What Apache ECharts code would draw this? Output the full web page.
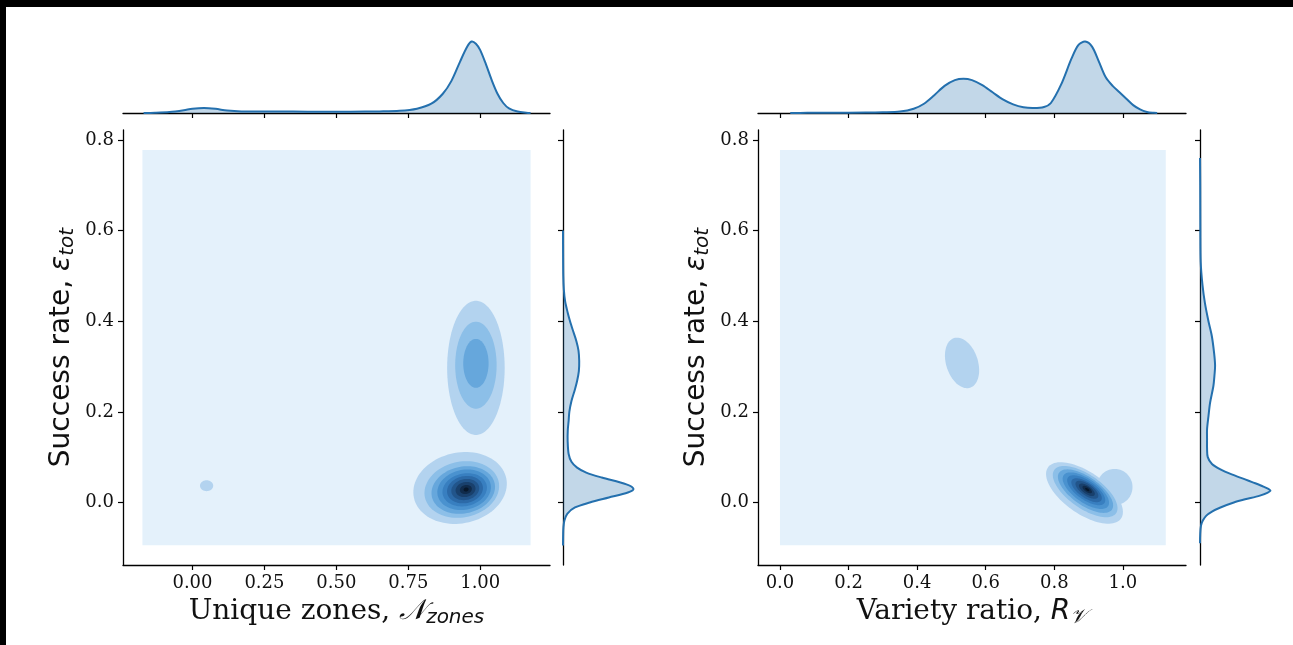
<!DOCTYPE html>
<html>
<head>
<meta charset="utf-8">
<script src="https://cdn.jsdelivr.net/npm/echarts@6/dist/echarts.min.js"></script>
<style>
html,body{margin:0;padding:0;background:#fff;}
#c{width:1293px;height:645px;}
</style>
</head>
<body>
<div id="c"></div>
<script>
// ---------- data ----------
const leftXTicks = [0, 0.25, 0.5, 0.75, 1.0];
const rightXTicks = [0, 0.2, 0.4, 0.6, 0.8, 1.0];
const yTicks = [0, 0.2, 0.4, 0.6, 0.8];
const leftXRange = [-0.2415, 1.2425];
const rightXRange = [-0.064, 1.184];
const yRange = [-0.138, 0.822];

// KDE evaluation region (lowest filled level): [x0, x1, y0, y1]
const leftKdeExtent = [-0.174, 1.175, -0.0945, 0.778];
const rightKdeExtent = [0.0, 1.125, -0.0945, 0.778];

// contour levels: [cx, cy, a (x units), b (y units), angle deg, level]
const leftLowerBlob = [
  [0.930, 0.032, 0.164, 0.078, -12, 2],
  [0.936, 0.0286, 0.131, 0.0615, -12, 3],
  [0.941, 0.0275, 0.1115, 0.0516, -12, 4],
  [0.944, 0.028, 0.094, 0.044, -12, 5],
  [0.946, 0.028, 0.078, 0.036, -12, 6],
  [0.947, 0.0283, 0.063, 0.0297, -12, 7],
  [0.948, 0.0285, 0.049, 0.023, -12, 8],
  [0.949, 0.0286, 0.035, 0.0165, -12, 9],
  [0.950, 0.0286, 0.021, 0.0099, -12, 10],
  [0.951, 0.0286, 0.0087, 0.0044, -12, 11]
];
const leftUpperBlob = [
  [0.985, 0.297, 0.100, 0.148, 0, 2],
  [0.985, 0.303, 0.072, 0.096, 0, 3],
  [0.985, 0.307, 0.044, 0.054, 0, 4]
];
const leftSpeck = [
  [0.049, 0.037, 0.023, 0.012, 0, 2]
];
const rightLowerBlob = [
  [0.888, 0.021, 0.130, 0.046, 35, 2],
  [0.890, 0.024, 0.110, 0.037, 35, 3],
  [0.891, 0.025, 0.094, 0.031, 35, 4],
  [0.892, 0.026, 0.079, 0.026, 35, 5],
  [0.893, 0.027, 0.065, 0.021, 35, 6],
  [0.894, 0.027, 0.052, 0.0168, 35, 7],
  [0.895, 0.028, 0.039, 0.0127, 35, 8],
  [0.895, 0.028, 0.027, 0.0089, 35, 9],
  [0.896, 0.0286, 0.016, 0.0054, 35, 10],
  [0.896, 0.0286, 0.007, 0.0024, 35, 11]
];
const rightShoulder = [
  [0.976, 0.034, 0.052, 0.040, 0, 2]
];
const rightUpperBlob = [
  [0.531, 0.308, 0.076, 0.035, 72, 2]
];

// marginal densities (normalised to peak = 1)
const leftTopDensity = [
  [-0.17,0],[-0.13,0.004],[-0.08,0.015],[-0.03,0.04],[0.0,0.06],[0.04,0.07],[0.08,0.058],
  [0.12,0.035],[0.17,0.022],[0.25,0.02],[0.35,0.02],[0.45,0.018],[0.55,0.018],[0.65,0.022],
  [0.72,0.03],[0.78,0.06],[0.83,0.13],[0.87,0.27],[0.9,0.45],[0.93,0.72],[0.955,0.93],
  [0.97,1.0],[0.985,0.97],[1.0,0.88],[1.02,0.68],[1.04,0.46],[1.06,0.27],[1.08,0.14],
  [1.1,0.065],[1.13,0.02],[1.16,0.004],[1.175,0]
];
const rightTopDensity = [
  [0.03,0],[0.08,0.002],[0.15,0.004],[0.25,0.006],[0.3,0.01],[0.35,0.02],[0.39,0.06],
  [0.42,0.13],[0.45,0.25],[0.48,0.38],[0.51,0.46],[0.535,0.48],[0.56,0.46],[0.59,0.39],
  [0.62,0.29],[0.65,0.19],[0.68,0.12],[0.71,0.08],[0.74,0.07],[0.77,0.085],[0.79,0.14],
  [0.82,0.40],[0.85,0.76],[0.87,0.95],[0.89,1.0],[0.91,0.93],[0.93,0.72],[0.95,0.5],
  [0.97,0.38],[0.99,0.29],[1.01,0.2],[1.03,0.11],[1.05,0.05],[1.07,0.015],[1.09,0.002],[1.1,0]
];
const leftRightDensity = [
  [-0.095,0],[-0.07,0.002],[-0.055,0.006],[-0.04,0.02],[-0.025,0.06],[-0.011,0.17],[0.0,0.38],
  [0.011,0.65],[0.022,0.92],[0.03,1.0],[0.04,0.9],[0.055,0.55],[0.066,0.33],[0.077,0.2],
  [0.09,0.12],[0.107,0.08],[0.136,0.066],[0.16,0.068],[0.18,0.08],[0.2,0.09],[0.224,0.12],
  [0.25,0.17],[0.268,0.2],[0.29,0.225],[0.312,0.23],[0.335,0.22],[0.356,0.19],[0.38,0.14],
  [0.4,0.1],[0.42,0.065],[0.444,0.03],[0.47,0.012],[0.5,0.004],[0.55,0.001],[0.6,0]
];
const rightRightDensity = [
  [-0.09,0],[-0.07,0.003],[-0.051,0.014],[-0.04,0.04],[-0.029,0.09],[-0.02,0.17],[-0.011,0.29],
  [0.0,0.48],[0.007,0.64],[0.015,0.85],[0.026,1.0],[0.035,0.9],[0.045,0.74],[0.051,0.64],
  [0.062,0.45],[0.073,0.29],[0.085,0.17],[0.1,0.11],[0.12,0.1],[0.14,0.1],[0.161,0.1],
  [0.19,0.12],[0.22,0.143],[0.257,0.19],[0.28,0.205],[0.302,0.214],[0.33,0.2],[0.368,0.167],
  [0.4,0.12],[0.44,0.07],[0.48,0.035],[0.53,0.01],[0.6,0.005],[0.7,0.003],[0.76,0]
];

// ---------- styling ----------
const levelColors = ['#ffffff','#e4f1fb','#b3d3ef','#8cbfe8','#66a7dc','#4a92cf','#387fc0',
                     '#2c6aa8','#22558b','#19406c','#102b4b','#07172a'];
const curveColor = '#2470ae';
const curveFill = 'rgba(36,112,174,0.28)';
const axisColor = '#000';
const serif = 'DejaVu Serif';
const sans = 'DejaVu Sans';
const titleSize = 28;
const subSize = 20;

const chart = echarts.init(document.getElementById('c'), null, {renderer: 'canvas'});

function mainXAxis(gi, range, ticks, digits, nameRich) {
  return {
    type: 'value', gridIndex: gi, min: range[0], max: range[1],
    splitLine: {show: false},
    axisLine: {show: true, onZero: false, lineStyle: {color: axisColor, width: 1.3}},
    axisTick: {show: true, length: 5, customValues: ticks, lineStyle: {color: axisColor, width: 1.2}},
    axisLabel: {show: true, customValues: ticks, margin: 9, fontFamily: serif, fontSize: 18, color: '#111',
                formatter: v => Number(v).toFixed(digits)},
    name: nameRich.text, nameLocation: 'middle', nameGap: 31,
    nameTextStyle: {rich: nameRich.rich}
  };
}
function mainYAxis(gi) {
  return {
    type: 'value', gridIndex: gi, min: yRange[0], max: yRange[1],
    splitLine: {show: false},
    axisLine: {show: true, onZero: false, lineStyle: {color: axisColor, width: 1.3}},
    axisTick: {show: true, length: 5, customValues: yTicks, lineStyle: {color: axisColor, width: 1.2}},
    axisLabel: {show: true, customValues: yTicks, margin: 9, fontFamily: serif, fontSize: 18, color: '#111',
                formatter: v => Number(v).toFixed(1)},
    name: '{t|Success rate, }{m|ε}{s|tot}', nameLocation: 'middle', nameGap: 45, nameRotate: 90,
    nameTextStyle: {rich: {
      t: {fontFamily: sans, fontSize: titleSize, color: '#111'},
      m: {fontFamily: sans, fontStyle: 'italic', fontSize: titleSize, color: '#111'},
      s: {fontFamily: sans, fontStyle: 'italic', fontSize: subSize, color: '#111', padding: [12, 0, 0, 0]}
    }}
  };
}
function margXAxis(gi, range, ticks) {
  return {
    type: 'value', gridIndex: gi, min: range[0], max: range[1],
    splitLine: {show: false},
    axisLine: {show: true, onZero: false, lineStyle: {color: axisColor, width: 1.3}},
    axisTick: {show: true, length: 5, customValues: ticks, lineStyle: {color: axisColor, width: 1.2}},
    axisLabel: {show: false}
  };
}
function margYAxis(gi) {
  return {
    type: 'value', gridIndex: gi, min: yRange[0], max: yRange[1],
    splitLine: {show: false},
    axisLine: {show: true, onZero: false, lineStyle: {color: axisColor, width: 1.3}},
    axisTick: {show: true, length: 5, customValues: yTicks, lineStyle: {color: axisColor, width: 1.2}},
    axisLabel: {show: false}
  };
}
function hiddenAxis(gi) {
  return {type: 'value', gridIndex: gi, min: 0, max: 1.05, show: false};
}

function rectSeries(xi, yi, extent) {
  return {
    type: 'custom', xAxisIndex: xi, yAxisIndex: yi, silent: true, z: 1,
    data: [extent],
    renderItem: (params, api) => {
      const p0 = api.coord([api.value(0), api.value(3)]);
      const p1 = api.coord([api.value(1), api.value(2)]);
      return {type: 'rect', shape: {x: p0[0], y: p0[1], width: p1[0] - p0[0], height: p1[1] - p0[1]},
              style: {fill: levelColors[1]}};
    }
  };
}
function ellipseSeries(xi, yi, rows) {
  return {
    type: 'custom', xAxisIndex: xi, yAxisIndex: yi, silent: true, z: 2,
    data: rows,
    renderItem: (params, api) => {
      const c = api.coord([api.value(0), api.value(1)]);
      const s = api.size([api.value(2), api.value(3)]);
      const ang = api.value(4) * Math.PI / 180;
      const lvl = api.value(5);
      const pts = [];
      const n = 90;
      for (let i = 0; i < n; i++) {
        const t = i / n * 2 * Math.PI;
        const px = s[0] * Math.cos(t), py = s[1] * Math.sin(t);
        pts.push([c[0] + px * Math.cos(ang) - py * Math.sin(ang), c[1] + px * Math.sin(ang) + py * Math.cos(ang)]);
      }
      return {type: 'polygon', z2: lvl, shape: {points: pts}, style: {fill: levelColors[lvl]}};
    }
  };
}
function topCurveSeries(xi, yi, dens) {
  return {
    type: 'custom', xAxisIndex: xi, yAxisIndex: yi, silent: true, z: 3,
    data: [0],
    renderItem: (params, api) => {
      const pts = dens.map(d => api.coord([d[0], d[1]]));
      const base0 = api.coord([dens[0][0], 0]);
      const base1 = api.coord([dens[dens.length - 1][0], 0]);
      return {type: 'group', children: [
        {type: 'polygon', shape: {points: [base0].concat(pts, [base1]), smooth: 0.3}, style: {fill: curveFill}},
        {type: 'polyline', shape: {points: pts, smooth: 0.3}, style: {stroke: curveColor, lineWidth: 2, fill: null}}
      ]};
    }
  };
}
function rightCurveSeries(xi, yi, dens) {
  return {
    type: 'custom', xAxisIndex: xi, yAxisIndex: yi, silent: true, z: 3,
    data: [0],
    renderItem: (params, api) => {
      const pts = dens.map(d => api.coord([d[1], d[0]]));
      const base0 = api.coord([0, dens[0][0]]);
      const base1 = api.coord([0, dens[dens.length - 1][0]]);
      return {type: 'group', children: [
        {type: 'polygon', shape: {points: [base0].concat(pts, [base1]), smooth: 0.3}, style: {fill: curveFill}},
        {type: 'polyline', shape: {points: pts, smooth: 0.3}, style: {stroke: curveColor, lineWidth: 2, fill: null}}
      ]};
    }
  };
}

const leftXName = {
  text: '{t|Unique zones, }{m|𝒩}{s|zones}',
  rich: {
    t: {fontFamily: serif, fontSize: titleSize, color: '#111'},
    m: {fontFamily: serif, fontStyle: 'italic', fontSize: titleSize, color: '#111'},
    s: {fontFamily: sans, fontStyle: 'italic', fontSize: subSize, color: '#111', padding: [12, 0, 0, 0]}
  }
};
const rightXName = {
  text: '{t|Variety ratio, }{m|R}{s|𝒱}',
  rich: {
    t: {fontFamily: serif, fontSize: titleSize, color: '#111'},
    m: {fontFamily: sans, fontStyle: 'italic', fontSize: titleSize, color: '#111'},
    s: {fontFamily: serif, fontStyle: 'italic', fontSize: subSize, color: '#111', padding: [12, 0, 0, 0]}
  }
};

const option = {
  animation: false,
  backgroundColor: '#ffffff',
  grid: [
    {left: 123, top: 130, width: 427, height: 435},   // 0 left main
    {left: 123, top: 38, width: 427, height: 75},     // 1 left top marginal
    {left: 563, top: 130, width: 74, height: 435},    // 2 left right marginal
    {left: 758, top: 130, width: 428, height: 435},   // 3 right main
    {left: 758, top: 38, width: 428, height: 75},     // 4 right top marginal
    {left: 1200, top: 130, width: 74, height: 435}    // 5 right right marginal
  ],
  xAxis: [
    mainXAxis(0, leftXRange, leftXTicks, 2, leftXName),
    margXAxis(1, leftXRange, leftXTicks),
    hiddenAxis(2),
    mainXAxis(3, rightXRange, rightXTicks, 1, rightXName),
    margXAxis(4, rightXRange, rightXTicks),
    hiddenAxis(5)
  ],
  yAxis: [
    mainYAxis(0),
    hiddenAxis(1),
    margYAxis(2),
    mainYAxis(3),
    hiddenAxis(4),
    margYAxis(5)
  ],
  series: [
    rectSeries(0, 0, leftKdeExtent),
    ellipseSeries(0, 0, leftSpeck.concat(leftUpperBlob, leftLowerBlob)),
    topCurveSeries(1, 1, leftTopDensity),
    rightCurveSeries(2, 2, leftRightDensity),
    rectSeries(3, 3, rightKdeExtent),
    ellipseSeries(3, 3, rightUpperBlob.concat(rightShoulder, rightLowerBlob)),
    topCurveSeries(4, 4, rightTopDensity),
    rightCurveSeries(5, 5, rightRightDensity)
  ],
  graphic: [
    {type: 'rect', left: 0, top: 0, shape: {width: 1293, height: 7}, style: {fill: '#000'}, z: 100},
    {type: 'rect', left: 0, top: 0, shape: {width: 6, height: 645}, style: {fill: '#000'}, z: 100}
  ]
};
chart.setOption(option);
</script>
</body>
</html>
